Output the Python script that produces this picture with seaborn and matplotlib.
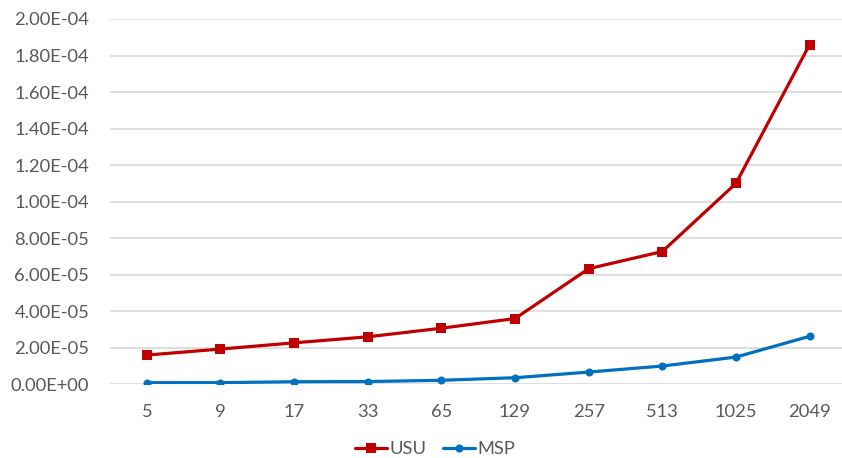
import matplotlib
matplotlib.use("Agg")
import matplotlib.pyplot as plt
import seaborn as sns
import pandas as pd
from matplotlib.ticker import FuncFormatter, MultipleLocator

sizes = ["5", "9", "17", "33", "65", "129", "257", "513", "1025", "2049"]
usu = [1.60e-5, 1.93e-5, 2.27e-5, 2.60e-5, 3.07e-5, 3.60e-5, 6.33e-5, 7.27e-5, 1.10e-4, 1.86e-4]
msp = [0.09e-5, 0.09e-5, 0.14e-5, 0.15e-5, 0.22e-5, 0.36e-5, 0.67e-5, 1.00e-5, 1.49e-5, 2.63e-5]

df = pd.DataFrame({
    "size": sizes * 2,
    "time": usu + msp,
    "method": ["USU"] * len(sizes) + ["MSP"] * len(sizes),
})

sns.set_theme(style="white")
plt.rcParams["font.family"] = ["Lato", "DejaVu Sans"]

W, H = 842, 458
fig = plt.figure(figsize=(W / 100, H / 100), dpi=100)
ax = fig.add_axes([110 / W, (458 - 384.3) / H, (842 - 110) / W, (384.3 - 19) / H])

palette = {"USU": "#C00000", "MSP": "#0070C0"}
markers = {"USU": "s", "MSP": "o"}
sns.lineplot(data=df, x="size", y="time", hue="method", style="method",
             palette=palette, markers=markers, dashes=False, linewidth=2.3,
             markeredgewidth=0, ax=ax, sort=False, legend=True)
for line in ax.lines:
    line.set_markersize(6.6 if line.get_marker() == "s" else 5.8)

ax.set_ylim(0, 2.0e-4)
ax.set_xlim(-0.5, 9.44)
ax.yaxis.set_major_locator(MultipleLocator(2e-5))
ax.yaxis.set_major_formatter(FuncFormatter(lambda v, p: f"{v:.2E}"))
ax.grid(axis="y", color="#D9D9D9", linewidth=1.2)
ax.set_axisbelow(True)
for s in ax.spines.values():
    s.set_visible(False)
ax.set_xlabel("")
ax.set_ylabel("")
ax.tick_params(axis="both", length=0, labelsize=13.2, colors="#595959")
ax.tick_params(axis="x", pad=14)
ax.tick_params(axis="y", pad=15)

handles, labels = ax.get_legend_handles_labels()
ax.get_legend().remove()
for h in handles:
    h.set_markersize(6.6 if h.get_marker() == "s" else 5.8)
leg = fig.legend(handles, labels, loc="center", bbox_to_anchor=(435 / W, 1 - 449 / H),
                 ncol=2, frameon=False, fontsize=13.2, handlelength=1.75,
                 handletextpad=0.15, columnspacing=0.9, borderpad=0)
for t in leg.get_texts():
    t.set_color("#595959")

fig.savefig("out.png", dpi=100, facecolor="white")
